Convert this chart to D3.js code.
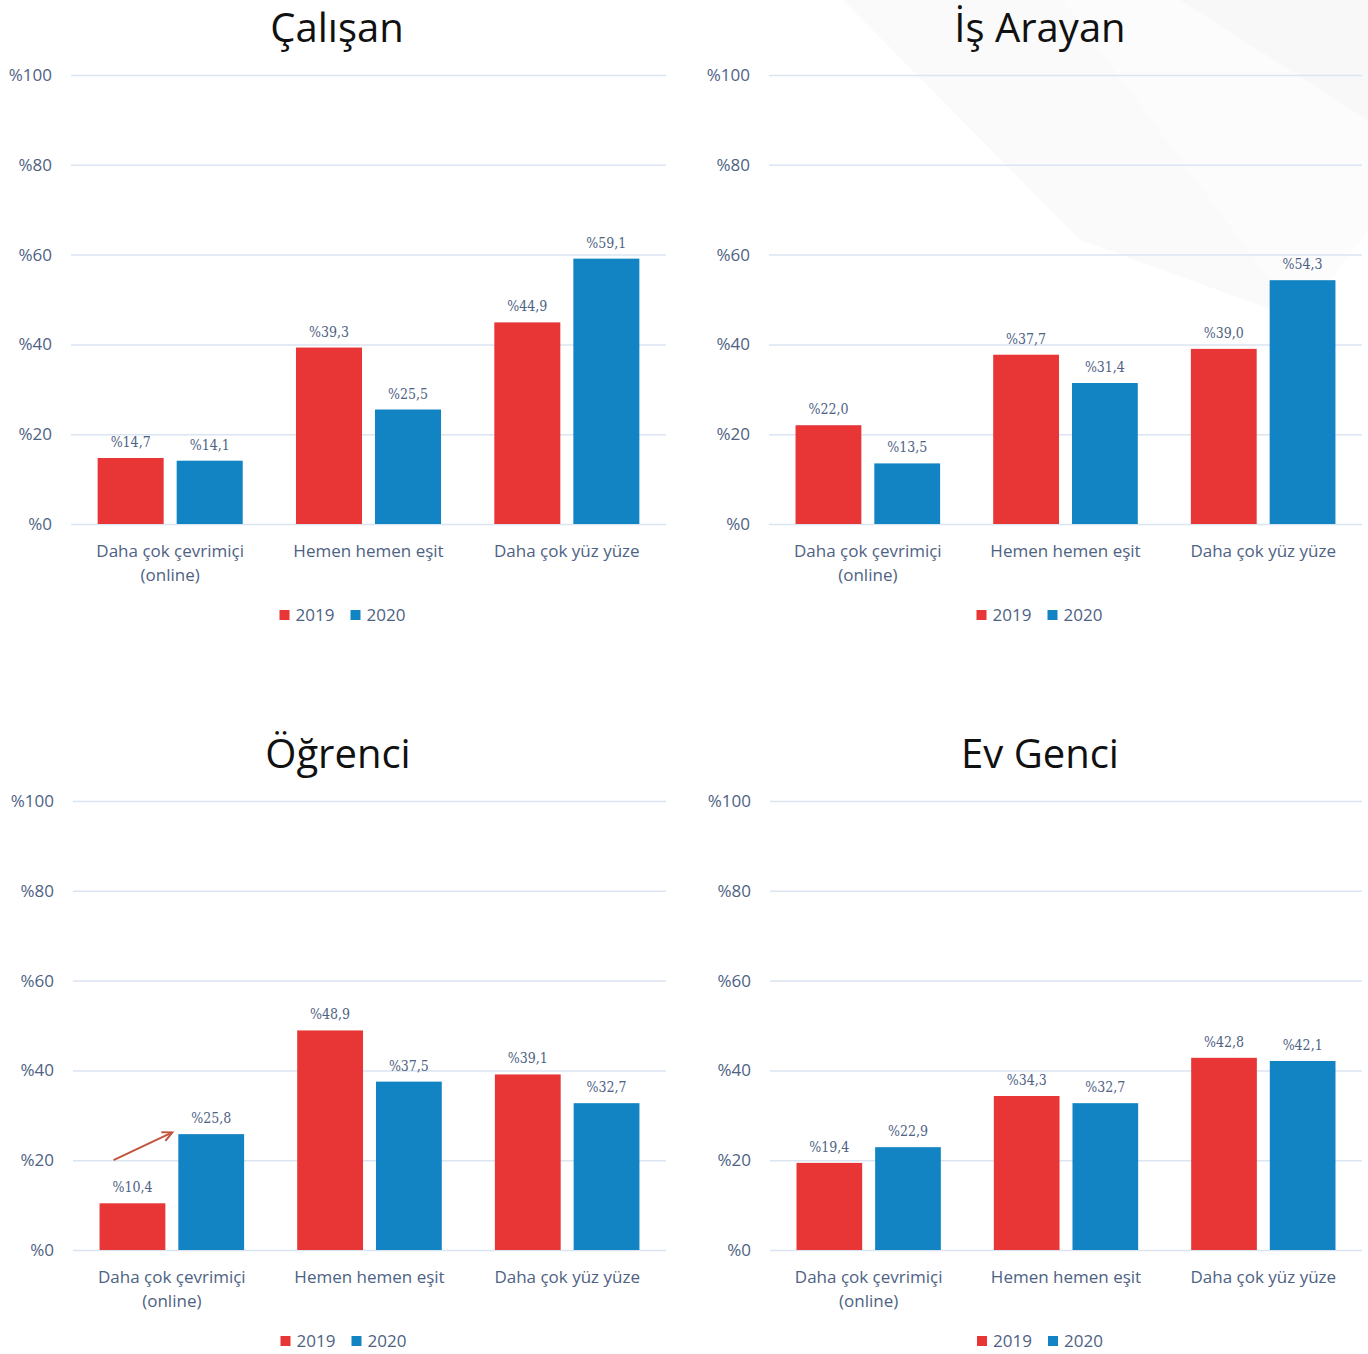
<!DOCTYPE html>
<html><head><meta charset="utf-8">
<script src="https://cdn.jsdelivr.net/npm/d3@7"></script>
<style>
html,body{margin:0;padding:0;background:#fff;}
svg{display:block;}
</style></head>
<body>
<svg id="chart" width="1368" height="1354"></svg>
<script>
// ---- data ----
const categories = [["Daha çok çevrimiçi","(online)"],["Hemen hemen eşit"],["Daha çok yüz yüze"]];
const seriesNames = ["2019","2020"];
const seriesColors = ["#E83536","#1284C3"];
const titles = ["Çalışan","İş Arayan","Öğrenci","Ev Genci"];
const values2019 = [
  [14.7, 39.3, 44.9],
  [22.0, 37.7, 39.0],
  [10.4, 48.9, 39.1],
  [19.4, 34.3, 42.8]
];
const values2020 = [
  [14.1, 25.5, 59.1],
  [13.5, 31.4, 54.3],
  [25.8, 37.5, 32.7],
  [22.9, 32.7, 42.1]
];
const yTicks = [0,20,40,60,80,100];

// ---- layout ----
const panels = [
  {left:71, right:666, top:75, bottom:524, titleX:337},
  {left:769, right:1362, top:75, bottom:524, titleX:1040},
  {left:73, right:666, top:801, bottom:1250, titleX:338},
  {left:770, right:1362, top:801, bottom:1250, titleX:1040}
];

const svg = d3.select("#chart");

// faint diagonal background shading (top-right)
const bg = svg.append("g");
bg.append("polygon").attr("points","843,0 1063,0 1300,320 1080,240").attr("fill","#fafafa");
bg.append("polygon").attr("points","1063,0 1368,0 1368,230 1300,320").attr("fill","#fcfcfc");
bg.append("polygon").attr("points","1180,0 1368,0 1368,120").attr("fill","#f8f8f8");

const fmt = v => "%" + d3.format(".1f")(v).replace(".", ",");

panels.forEach((p, i) => {
  const g = svg.append("g");
  const y = d3.scaleLinear().domain([0,100]).range([p.bottom, p.top]);
  const x = d3.scaleBand().domain(d3.range(categories.length)).range([p.left, p.right]).paddingInner(0).paddingOuter(0);
  const xs = d3.scaleBand().domain(seriesNames).range([0, x.bandwidth()]).paddingInner(0.1646).paddingOuter(0.337);

  // title
  g.append("text").attr("x",p.titleX).attr("y",p.top-33)
    .attr("text-anchor","middle").attr("font-family","Open Sans, sans-serif")
    .attr("font-size",40).attr("fill","#111").text(titles[i]);

  // grid + y axis
  const axis = d3.axisLeft(y).tickValues(yTicks).tickSize(-(p.right-p.left)).tickFormat(d => "%" + d);
  const ag = g.append("g").attr("transform",`translate(${p.left},0)`).call(axis);
  ag.select(".domain").remove();
  ag.selectAll(".tick line").attr("stroke","#dbe5f1").attr("stroke-width",1.5);
  ag.selectAll(".tick text").attr("x",-19).attr("font-family","Open Sans, sans-serif")
    .attr("font-size",17).attr("fill","#4e6283");

  // bars
  const data2 = [values2019[i], values2020[i]];
  seriesNames.forEach((s, si) => {
    const vals = data2[si];
    g.selectAll(null).data(vals).enter().append("rect")
      .attr("x",(d,ci) => x(ci) + xs(s))
      .attr("y",d => y(d))
      .attr("width",xs.bandwidth())
      .attr("height",d => y(0) - y(d))
      .attr("fill",seriesColors[si]);
    g.selectAll(null).data(vals).enter().append("text")
      .attr("x",(d,ci) => x(ci) + xs(s) + xs.bandwidth()/2)
      .attr("y",d => y(d) - 11)
      .attr("text-anchor","middle").attr("font-family","DejaVu Serif Condensed, DejaVu Serif, serif")
      .attr("font-size",14).attr("fill","#4e6283").text(fmt);
  });

  // category labels
  categories.forEach((lines, ci) => {
    const t = g.append("text").attr("text-anchor","middle").attr("font-family","Open Sans, sans-serif")
      .attr("font-size",17).attr("fill","#4e6283");
    lines.forEach((ln, li) => {
      t.append("tspan").attr("x", x(ci) + x.bandwidth()/2).attr("y", p.bottom + 33 + li*24).text(ln);
    });
  });

  // legend
  const lx = (p.left + p.right)/2 - 89;
  const ly = p.bottom + 97;
  seriesNames.forEach((s, si) => {
    const ox = lx + si*71;
    g.append("rect").attr("x",ox).attr("y",ly-11).attr("width",10).attr("height",10).attr("fill",seriesColors[si]);
    g.append("text").attr("x",ox+16).attr("y",ly).attr("font-family","Open Sans, sans-serif")
      .attr("font-size",17).attr("fill","#4e6283").text(s);
  });

  // arrow in Öğrenci panel
  if (i === 2) {
    const x1 = x(0) + xs("2019") + 14, y1 = y(20);
    const x2 = x(0) + xs("2020") - 6, y2 = y(26.2);
    g.append("line").attr("x1",x1).attr("y1",y1).attr("x2",x2).attr("y2",y2)
      .attr("stroke","#C0553F").attr("stroke-width",2);
    const ang = Math.atan2(y2-y1, x2-x1);
    const L = 11, a = 0.45;
    g.append("path").attr("d",
      `M${x2 - L*Math.cos(ang - a)},${y2 - L*Math.sin(ang - a)} L${x2},${y2} L${x2 - L*Math.cos(ang + a)},${y2 - L*Math.sin(ang + a)}`)
      .attr("fill","none").attr("stroke","#C0553F").attr("stroke-width",2);
  }
});
</script>
</body></html>
